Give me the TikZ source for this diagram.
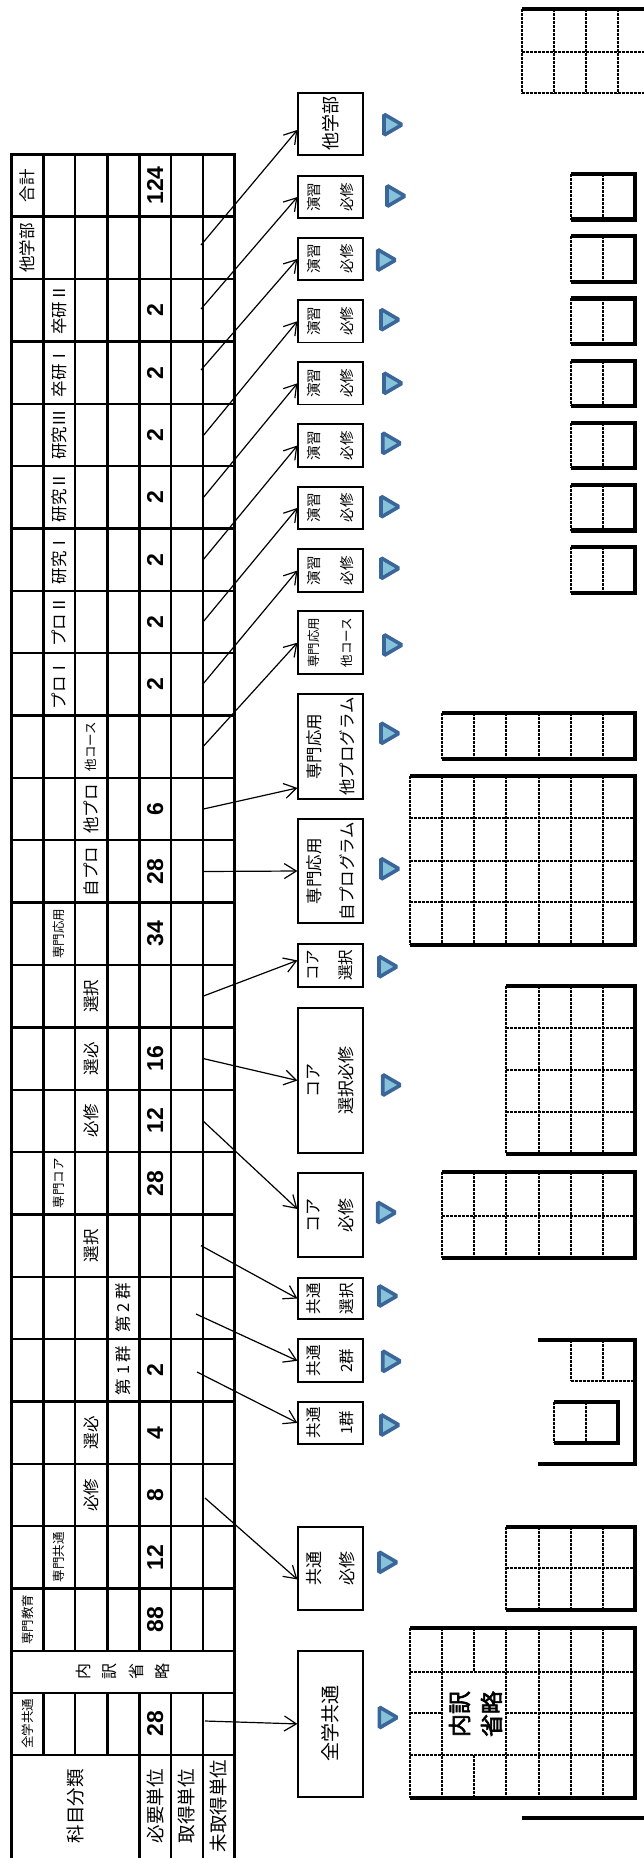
\documentclass[tikz,border=0pt]{standalone}
\usepackage{fontspec}
\newfontfamily\jp{Noto Sans CJK JP}[AutoFakeBold=2.5]
\newfontfamily\numfont{Liberation Sans}
\usetikzlibrary{arrows.meta,positioning}
\definecolor{tridark}{HTML}{3A6699}
\definecolor{trilight}{HTML}{86C3DA}
\tikzset{
  tabrule/.style={line width=2.4pt},
  hd/.style={rotate=90,inner sep=0pt,font=\jp\fontsize{16.5}{18}\selectfont},
  hdsmall/.style={rotate=90,inner sep=0pt,font=\jp\fontsize{12.5}{14}\selectfont},
  unitlabel/.style={rotate=90,inner sep=0pt,font=\jp\fontsize{18.5}{20}\selectfont},
  num/.style={rotate=90,inner sep=0pt,font=\numfont\bfseries\fontsize{23}{25}\selectfont},
  course/.style={draw,line width=1.8pt,rotate=90,align=center,inner sep=0pt,
    minimum height=64.4pt,font=\jp\fontsize{15.5}{33}\selectfont},
  credit/.style={-{Straight Barb[length=12pt,width=15pt]},line width=1.2pt},
  playtri/.style={draw=tridark,fill=trilight,line width=3.6pt,rounded corners=1.5pt},
  cellrule/.style={line width=2pt,dash pattern=on 3pt off 1pt},
  gridframe/.style={line width=4.2pt},
}
\begin{document}
\begin{tikzpicture}[x=1pt,y=-1pt]
\useasboundingbox (0,0) rectangle (644,1858);

% table
\foreach \k in {0,...,24}
  \draw[tabrule] (11.7,154.3+62.36*\k) -- (234.3,154.3+62.36*\k);
\draw[tabrule] (11.7,1692.7) -- (234.3,1692.7);
\draw[tabrule] (11.7,1755) -- (234.3,1755);
\draw[line width=2.8pt] (11.7,153.1) -- (11.7,1862);
\draw[tabrule] (234.3,153.1) -- (234.3,1862);
\foreach \x in {43.3,75,107.3} {
  \draw[tabrule] (\x,154.3) -- (\x,1651);
  \draw[tabrule] (\x,1692.7) -- (\x,1755);
}
\foreach \x in {139.3,171,202.7} {
  \draw[tabrule] (\x,154.3) -- (\x,1651);
  \draw[tabrule] (\x,1692.7) -- (\x,1862);
}

% table headers
\node[hd] (hGoukei) at (27.5,185.5) {合計};
\node[hd] (hTagaku) at (27.5,247.8) {他学部};
\node[hd] (hSotsu2) at (59.2,310.2) {卒研Ⅱ};
\node[hd] (hSotsu1) at (59.2,372.6) {卒研Ⅰ};
\node[hd] (hKen3) at (59.2,434.9) {研究Ⅲ};
\node[hd] (hKen2) at (59.2,497.3) {研究Ⅱ};
\node[hd] (hKen1) at (59.2,559.7) {研究Ⅰ};
\node[hd] (hPro2) at (59.2,622.0) {プロⅡ};
\node[hd] (hPro1) at (59.2,684.4) {プロⅠ};
\node[hdsmall] (hOcourse) at (91.2,746.7) {他コース};
\node[hd] (hOprog) at (91.2,809.1) {他プロ};
\node[hd] (hJprog) at (91.2,871.5) {自プロ};
\node[hdsmall] (hOuyou) at (59.2,933.8) {専門応用};
\node[hd] (hCoreSen) at (91.2,996.2) {選択};
\node[hd] (hCoreSenhi) at (91.2,1058.5) {選必};
\node[hd] (hCoreHi) at (91.2,1120.9) {必修};
\node[hdsmall] (hCore) at (59.2,1183.3) {専門コア};
\node[hd] (hKyoSen) at (91.2,1245.6) {選択};
\node[hd] (hKyo2) at (123.3,1308.0) {第 2 群};
\node[hd] (hKyo1) at (123.3,1370.3) {第 1 群};
\node[hd] (hKyoSenhi) at (91.2,1432.7) {選必};
\node[hd] (hKyoHi) at (91.2,1495.1) {必修};
\node[hdsmall] (hKyoutsu) at (59.2,1557.4) {専門共通};
\node[hdsmall] (hSenmon) at (27.5,1619.8) {専門教育};
\node[rotate=90,align=center,inner sep=0pt,font=\jp\fontsize{16}{26.5}\selectfont]
  (hUchiwake) at (123,1671.9) {内\\訳\\省\\略};
\node[hdsmall] (hZengaku) at (27.5,1723.9) {全学共通};
\node[unitlabel] (hKamoku) at (75.5,1806) {科目分類};
\node[unitlabel] (hHitsuyou) at (155.2,1806) {必要単位};
\node[unitlabel] (hShutoku) at (186.9,1806) {取得単位};
\node[unitlabel] (hMishutoku) at (218.5,1806) {未取得単位};

% required credits
\node[num] (nGoukei) at (155.2,185.5) {124};
\node[num] (nSotsu2) at (155.2,310.2) {2};
\node[num] (nSotsu1) at (155.2,372.6) {2};
\node[num] (nKen3) at (155.2,434.9) {2};
\node[num] (nKen2) at (155.2,497.3) {2};
\node[num] (nKen1) at (155.2,559.7) {2};
\node[num] (nPro2) at (155.2,622.0) {2};
\node[num] (nPro1) at (155.2,684.4) {2};
\node[num] (nOprog) at (155.2,809.1) {6};
\node[num] (nJprog) at (155.2,871.5) {28};
\node[num] (nOuyou) at (155.2,933.8) {34};
\node[num] (nCoreSenhi) at (155.2,1058.5) {16};
\node[num] (nCoreHi) at (155.2,1120.9) {12};
\node[num] (nCore) at (155.2,1183.3) {28};
\node[num] (nKyo1) at (155.2,1370.3) {2};
\node[num] (nKyoSenhi) at (155.2,1432.7) {4};
\node[num] (nKyoHi) at (155.2,1495.1) {8};
\node[num] (nKyoutsu) at (155.2,1557.4) {12};
\node[num] (nSenmon) at (155.2,1619.8) {88};
\node[num] (nZengaku) at (155.2,1723.9) {28};

% course boxes
\node[course,minimum width=62.3pt,font=\jp\fontsize{18}{33}\selectfont] (bTagaku) at (330.5,123.9) {他学部};
\node[course,minimum width=42.5pt,font=\jp\fontsize{14.5}{33}\selectfont] (bEn1) at (330.5,197.0) {演習\\必修};
\node[course,minimum width=42.5pt,font=\jp\fontsize{14.5}{33}\selectfont] (bEn2) at (330.5,258.9) {演習\\必修};
\node[course,minimum width=42.5pt,font=\jp\fontsize{14.5}{33}\selectfont] (bEn3) at (330.5,321.2) {演習\\必修};
\node[course,minimum width=42.5pt,font=\jp\fontsize{14.5}{33}\selectfont] (bEn4) at (330.5,383.3) {演習\\必修};
\node[course,minimum width=42.5pt,font=\jp\fontsize{14.5}{33}\selectfont] (bEn5) at (330.5,445.5) {演習\\必修};
\node[course,minimum width=42.5pt,font=\jp\fontsize{14.5}{33}\selectfont] (bEn6) at (330.5,507.9) {演習\\必修};
\node[course,minimum width=42.5pt,font=\jp\fontsize{14.5}{33}\selectfont] (bEn7) at (330.5,570.5) {演習\\必修};
\node[course,minimum width=63.3pt,font=\jp\fontsize{12.5}{33}\selectfont] (bCourse) at (330.5,642.7) {専門応用\\他コース};
\node[course,minimum width=104.7pt,font=\jp\fontsize{16.5}{33}\selectfont] (bOprog) at (330.5,746.7) {専門応用\\他プログラム};
\node[course,minimum width=103.4pt,font=\jp\fontsize{16.5}{33}\selectfont] (bJprog) at (330.5,871.0) {専門応用\\自プログラム};
\node[course,minimum width=42.7pt] (bCoreSen) at (330.5,965.4) {コア\\選択};
\node[course,minimum width=145.6pt,font=\jp\fontsize{17}{33}\selectfont] (bCoreSenhi) at (330.5,1080.5) {コア\\選択必修};
\node[course,minimum width=83.4pt,font=\jp\fontsize{17}{33}\selectfont] (bCoreHi) at (330.5,1215.0) {コア\\必修};
\node[course,minimum width=41.6pt] (bKyoSen) at (330.5,1298.5) {共通\\選択};
\node[course,minimum width=43pt] (bKyo2) at (330.5,1360.8) {共通\\2群};
\node[course,minimum width=42.3pt] (bKyo1) at (330.5,1422.9) {共通\\1群};
\node[course,minimum width=83.3pt,font=\jp\fontsize{17}{33}\selectfont] (bKyoHi) at (330.5,1568.4) {共通\\必修};
\node[course,minimum width=145.7pt,font=\jp\fontsize{19}{33}\selectfont] (bZengaku) at (330.5,1723.9) {全学共通};

% arrow tails
\coordinate (tTagaku) at (201,245);
\coordinate (tSotsu2) at (201,309);
\coordinate (tSotsu1) at (201,370);
\coordinate (tKen3) at (203,436);
\coordinate (tKen2) at (203,498);
\coordinate (tKen1) at (203,560);
\coordinate (tPro2) at (203,622);
\coordinate (tPro1) at (203,684);
\coordinate (tOcourse) at (203,746.7);
\coordinate (tOprog) at (203,809.1);
\coordinate (tJprog) at (203,871.5);
\coordinate (tCoreSen) at (203,996.2);
\coordinate (tCoreSenhi) at (203,1058.5);
\coordinate (tCoreHi) at (203,1120.9);
\coordinate (tKyoSen) at (201,1245.6);
\coordinate (tKyo2) at (196,1314);
\coordinate (tKyo1) at (197,1372);
\coordinate (tKyoHi) at (205,1498);
\coordinate (tZengaku) at (205,1721);

\draw[credit] (tTagaku) -- ([yshift=-6pt]bTagaku.north);
\draw[credit] (tSotsu2) -- (bEn1.north);
\draw[credit] (tSotsu1) -- (bEn2.north);
\draw[credit] (tKen3) -- (bEn3.north);
\draw[credit] (tKen2) -- (bEn4.north);
\draw[credit] (tKen1) -- (bEn5.north);
\draw[credit] (tPro2) -- (bEn6.north);
\draw[credit] (tPro1) -- (bEn7.north);
\draw[credit] (tOcourse) -- (bCourse.north);
\draw[credit] (tOprog) -- ([yshift=12pt]bOprog.north west);
\draw[credit] (tJprog) -- (bJprog.north);
\draw[credit] (tCoreSen) -- ([yshift=5pt]bCoreSen.north);
\draw[credit] (tCoreSenhi) -- (bCoreSenhi.north);
\draw[credit] (tCoreHi) -- ([yshift=6pt]bCoreHi.north);
\draw[credit] (tKyoSen) -- (bKyoSen.north);
\draw[credit] (tKyo2) -- (bKyo2.north);
\draw[credit] (tKyo1) -- (bKyo1.north);
\draw[credit] (tKyoHi) -- ([yshift=-11pt]bKyoHi.north);
\draw[credit] (tZengaku) -- (bZengaku.north);

% triangles
\foreach \x/\y in {393/124.7,396/196,386.7/260,390/319.7,393/383.3,391.7/443.3,
  390/506.7,390/568.3,393/645,390/733.3,390/868.8,388/966.7,391.7/1085,
  386.7/1212.5,388/1296,391.7/1361.3,390/1425,388/1562.3,388.3/1717.5}
  \draw[playtri] (\x-9,\y-10.5) -- (\x+9,\y) -- (\x-9,\y+10.5) -- cycle;

% top right grid
\foreach \x in {521.7,554,585.7,617.7}
  \draw[cellrule] (\x,9) -- (\x,93.3);
\draw[cellrule] (521.7,51.7) -- (650,51.7);
\draw[cellrule] (521.7,93.3) -- (650,93.3);
\draw[gridframe] (521.7,9) -- (650,9);

% enshuu grids
\foreach \t in {174,236.2,298.4,360.6,422.8,485,547.2} {
  \draw[cellrule] (570.7,\t) -- (570.7,\t+45.5);
  \draw[cellrule] (602.9,\t) -- (602.9,\t+45.5);
  \draw[gridframe] (570.7,\t) -- (635,\t) -- (635,\t+45.5) -- (570.7,\t+45.5);
}

% other program grid
\foreach \x in {442.1,474.3,506.4,538.6,570.7,602.9}
  \draw[cellrule] (\x,713.3) -- (\x,759.3);
\draw[gridframe] (442.1,713.3) -- (635,713.3) -- (635,759.3) -- (442.1,759.3);

% own program grid
\foreach \x in {410,442.1,474.3,506.4,538.6,570.7,602.9}
  \draw[cellrule] (\x,776) -- (\x,945);
\foreach \y in {818.3,860.7,902.3}
  \draw[cellrule] (410,\y) -- (635,\y);
\draw[gridframe] (410,776) -- (635,776) -- (635,945) -- (410,945);

% core grids
\foreach \x in {506.4,538.6,570.7,602.9}
  \draw[cellrule] (\x,986) -- (\x,1154);
\foreach \y in {1028.3,1070,1112.3}
  \draw[cellrule] (506.4,\y) -- (635,\y);
\draw[gridframe] (506.4,986) -- (635,986) -- (635,1154) -- (506.4,1154);
\foreach \x in {442.1,474.3,506.4,538.6,570.7,602.9}
  \draw[cellrule] (\x,1172.3) -- (\x,1258.3);
\draw[cellrule] (442.1,1215.7) -- (635,1215.7);
\draw[gridframe] (442.1,1172.3) -- (635,1172.3) -- (635,1258.3) -- (442.1,1258.3);

% common group grids
\draw[cellrule] (570.7,1340) -- (570.7,1381);
\draw[cellrule] (602.9,1340) -- (602.9,1381);
\draw[cellrule] (570.7,1381) -- (635,1381);
\draw[cellrule] (554.3,1401.7) -- (554.3,1443.3);
\draw[cellrule] (586.3,1401.7) -- (586.3,1443.3);
\draw[gridframe] (554.3,1401.7) -- (618.3,1401.7) -- (618.3,1443.3) -- (554.3,1443.3);
\draw[gridframe] (537.7,1340) -- (635,1340) -- (635,1464) -- (537.7,1464);

% common required grid
\foreach \x in {506.4,538.6,570.7,602.9}
  \draw[cellrule] (\x,1526.7) -- (\x,1610);
\draw[cellrule] (506.4,1568.3) -- (635,1568.3);
\draw[gridframe] (506.4,1526.7) -- (635,1526.7) -- (635,1610) -- (506.4,1610);

% general education grid
\foreach \x in {410,442.1,506.4,538.6,570.7,602.9}
  \draw[cellrule] (\x,1628) -- (\x,1798);
\draw[cellrule] (474.3,1628) -- (474.3,1671.7);
\draw[cellrule] (474.3,1755) -- (474.3,1798);
\draw[cellrule] (410,1671.7) -- (635,1671.7);
\draw[cellrule] (410,1713.3) -- (442.1,1713.3);
\draw[cellrule] (506.4,1713.3) -- (635,1713.3);
\draw[cellrule] (410,1755) -- (635,1755);
\draw[gridframe] (410,1628) -- (635,1628) -- (635,1798) -- (410,1798);
\node[rotate=90,align=center,inner sep=0pt,font=\jp\bfseries\fontsize{23}{32}\selectfont]
  (gUchiwake) at (475.5,1714) {内訳\\省略};
\draw[gridframe] (521.7,1817.7) -- (650,1817.7);
\end{tikzpicture}
\end{document}
